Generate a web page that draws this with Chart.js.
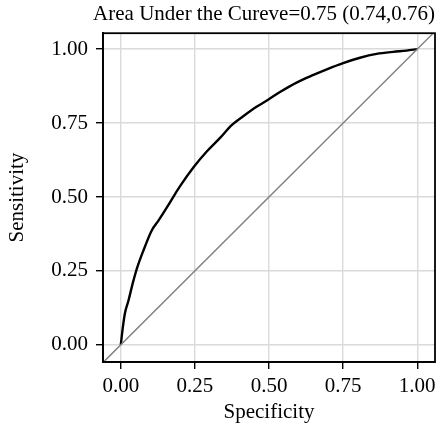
<!DOCTYPE html>
<html>
<head>
<meta charset="utf-8">
<script src="https://cdn.jsdelivr.net/npm/chart.js@4"></script>
<style>
  html, body { margin: 0; padding: 0; background: #fff; }
  #wrap { width: 439px; height: 433px; }
</style>
</head>
<body>
<div id="wrap"><canvas id="rocChart"></canvas></div>
<script>
/* ROC curve values */
const CURVE_X = [0, 0.007, 0.014, 0.026, 0.04, 0.054, 0.076, 0.104, 0.127, 0.155, 0.183, 0.2, 0.248, 0.29, 0.335, 0.374, 0.413, 0.458, 0.497, 0.537, 0.593, 0.65, 0.695, 0.75, 0.807, 0.863, 0.919, 0.964, 1.0];
const CURVE_Y = [0, 0.06, 0.107, 0.15, 0.207, 0.257, 0.318, 0.386, 0.42, 0.464, 0.51, 0.537, 0.604, 0.654, 0.70, 0.743, 0.773, 0.805, 0.829, 0.855, 0.887, 0.913, 0.932, 0.953, 0.971, 0.984, 0.991, 0.995, 1.0];

/* reference (chance) line, runs corner to corner */
const REF_X = [-0.07, 1.07];
const REF_Y = [-0.07, 1.07];

const TICKS = [0, 0.25, 0.5, 0.75, 1];
const X_RANGE = [-0.06, 1.06];
const Y_RANGE = [-0.058, 1.054];

const TITLE = "Area Under the Cureve=0.75 (0.74,0.76)";
const X_LABEL = "Specificity";
const Y_LABEL = "Sensitivity";

const FONT = { family: "'Liberation Serif', 'DejaVu Serif', serif", size: 21 };
const GRID = "#dadada";

function toPoints(xs, ys) {
  return xs.map((x, i) => ({ x: x, y: ys[i] }));
}

/**
 * Draws the black frame round the panel (ggplot-style border).
 */
const panelBox = {
  id: "panelBox",
  afterDatasetsDraw(chart) {
    const { ctx, chartArea: a } = chart;
    ctx.save();
    ctx.strokeStyle = "#000";
    ctx.lineWidth = 1.8;
    ctx.strokeRect(a.left, a.top, a.right - a.left, a.bottom - a.top);
    ctx.restore();
  },
};

function setTicks(scale) {
  scale.ticks = TICKS.map((v) => ({ value: v }));
}

new Chart(document.getElementById("rocChart"), {
  type: "scatter",
  data: {
    datasets: [
      {
        data: toPoints(REF_X, REF_Y),
        showLine: true,
        borderColor: "#808080",
        borderWidth: 1.4,
        pointRadius: 0,
      },
      {
        data: toPoints(CURVE_X, CURVE_Y),
        showLine: true,
        borderColor: "#000",
        borderWidth: 2.4,
        pointRadius: 0,
        cubicInterpolationMode: "monotone",
      },
    ],
  },
  options: {
    responsive: true,
    maintainAspectRatio: false,
    animation: false,
    layout: { padding: { left: 0, right: 4, top: 0, bottom: 0 } },
    plugins: {
      legend: { display: false },
      tooltip: { enabled: false },
      title: {
        display: true,
        text: TITLE,
        align: "end",
        color: "#000",
        font: { ...FONT, weight: "normal" },
        padding: { top: 2, bottom: 6 },
      },
    },
    scales: {
      x: {
        type: "linear",
        min: X_RANGE[0],
        max: X_RANGE[1],
        afterBuildTicks: setTicks,
        afterFit(scale) {
          scale.height = 71;
          scale.paddingLeft = 0;
          scale.paddingRight = 0;
        },
        grid: { color: GRID, tickColor: "#000", tickLength: 7, lineWidth: 1.4 },
        border: { color: "#000", width: 1.8 },
        ticks: {
          color: "#000",
          font: FONT,
          padding: 5,
          maxRotation: 0,
          callback: (v) => v.toFixed(2),
        },
        title: { display: true, text: X_LABEL, color: "#000", font: FONT, padding: { top: 0, bottom: 8 } },
      },
      y: {
        type: "linear",
        min: Y_RANGE[0],
        max: Y_RANGE[1],
        afterBuildTicks: setTicks,
        afterFit(scale) {
          scale.width = 103;
          scale.paddingTop = 0;
          scale.paddingBottom = 0;
        },
        grid: { color: GRID, tickColor: "#000", tickLength: 7, lineWidth: 1.4 },
        border: { color: "#000", width: 1.8 },
        ticks: {
          color: "#000",
          font: FONT,
          padding: 8,
          callback: (v) => v.toFixed(2),
        },
        title: { display: true, text: Y_LABEL, color: "#000", font: FONT, padding: { top: 5, bottom: 0 } },
      },
    },
  },
  plugins: [panelBox],
});
</script>
</body>
</html>
